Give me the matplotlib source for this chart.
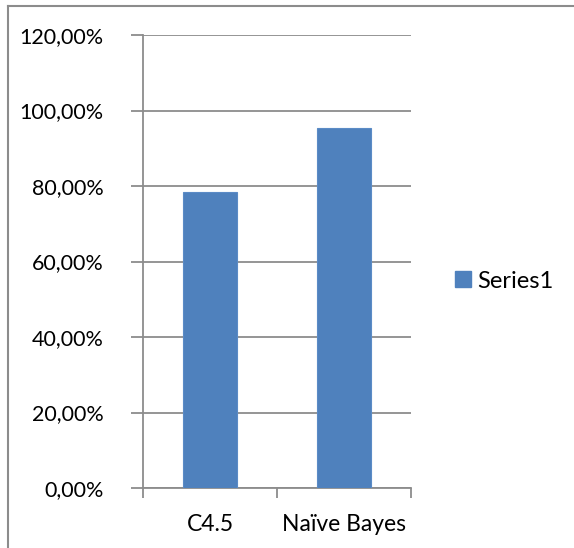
import numpy as np
import matplotlib.pyplot as plt
from matplotlib.lines import Line2D
from matplotlib.ticker import FuncFormatter

# Data
categories = ['C4.5', 'Naïve Bayes']
accuracy = [78.43, 95.45]  # percent
y_ticks = [0, 20, 40, 60, 80, 100, 120]
series_name = 'Series1'

bar_color = '#4F81BD'
grid_color = '#8C8C8C'

plt.rcParams['font.family'] = ['Lato', 'DejaVu Sans']

fig = plt.figure(figsize=(5.74, 5.48), dpi=100)
W, H = 574, 548
ax = fig.add_axes([143 / W, 1 - 488 / H, (411 - 143) / W, (488 - 35) / H])

x = np.arange(len(categories))
ax.bar(x, accuracy, width=0.4, color=bar_color, edgecolor='#5B8BC6', linewidth=0.8, zorder=3)

ax.set_xlim(-0.5, len(categories) - 0.5)
ax.set_ylim(0, 120)
ax.set_yticks(y_ticks)
ax.yaxis.set_major_formatter(FuncFormatter(lambda v, p: f'{v:.2f}%'.replace('.', ',')))
ax.set_xticks(x)
ax.set_xticklabels(categories)
ax.set_xticks([-0.5, 0.5, 1.5], minor=True)

ax.grid(axis='y', color=grid_color, linewidth=1.3, zorder=0)
ax.tick_params(axis='y', which='major', length=9, width=1.3, color=grid_color,
               labelsize=15.5, pad=19.5)
ax.tick_params(axis='x', which='major', length=0, labelsize=16.5, pad=18.5)
ax.tick_params(axis='x', which='minor', length=7, width=1.3, color=grid_color)

for side in ['top', 'right']:
    ax.spines[side].set_visible(False)
for side in ['left', 'bottom']:
    ax.spines[side].set_color(grid_color)
    ax.spines[side].set_linewidth(1.3)

# legend
handle = Line2D([], [], marker='s', linestyle='none', markersize=11,
                markerfacecolor=bar_color, markeredgecolor=bar_color)
fig.legend([handle], [series_name], loc='center left', bbox_to_anchor=(439 / W, 1 - 281 / H),
           frameon=False, fontsize=17, handletextpad=0.1, borderpad=0, handlelength=1.0)

# outer chart frame
fig.add_artist(Line2D([8 / W, 8 / W], [0, 1 - 6 / H], color=grid_color, linewidth=1.5))
fig.add_artist(Line2D([8 / W, 1], [1 - 6 / H, 1 - 6 / H], color=grid_color, linewidth=1.5))

fig.savefig('out.png', dpi=100)
